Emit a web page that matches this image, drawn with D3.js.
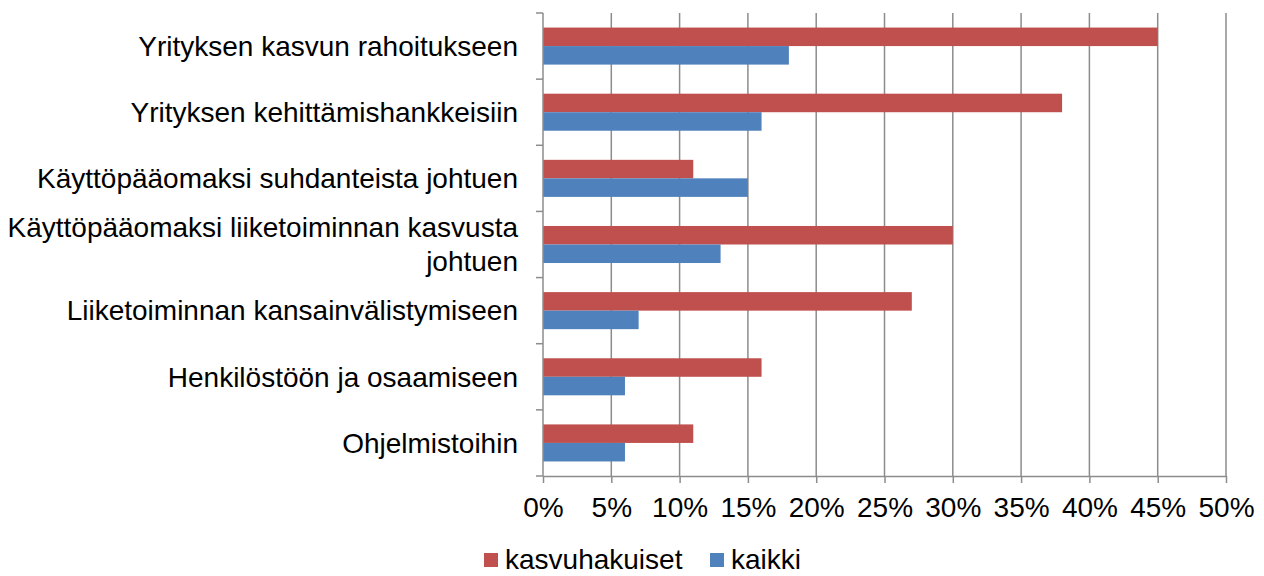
<!DOCTYPE html>
<html>
<head>
<meta charset="utf-8">
<script src="https://cdn.jsdelivr.net/npm/d3@7"></script>
<style>
  body { margin: 0; background: #fff; }
  svg text { font-family: "Liberation Sans", Arial, sans-serif; fill: #000; }
  .grid line { stroke: #8c8c8c; stroke-width: 1.5; }
  .axis path, .axis line { stroke: #8c8c8c; stroke-width: 1.5; }
</style>
</head>
<body>
<svg id="chart" width="1264" height="576"></svg>
<script>
const d3 = window.d3;

const categories = [
  'Yrityksen kasvun rahoitukseen',
  'Yrityksen kehittämishankkeisiin',
  'Käyttöpääomaksi suhdanteista johtuen',
  'Käyttöpääomaksi liiketoiminnan kasvusta johtuen',
  'Liiketoiminnan kansainvälistymiseen',
  'Henkilöstöön ja osaamiseen',
  'Ohjelmistoihin'
];
// label lines (wrapped as in the original)
const labelLines = [
  ['Yrityksen kasvun rahoitukseen'],
  ['Yrityksen kehittämishankkeisiin'],
  ['Käyttöpääomaksi suhdanteista johtuen'],
  ['Käyttöpääomaksi liiketoiminnan kasvusta', 'johtuen'],
  ['Liiketoiminnan kansainvälistymiseen'],
  ['Henkilöstöön ja osaamiseen'],
  ['Ohjelmistoihin']
];
const seriesNames = ['kasvuhakuiset', 'kaikki'];
const kasvuhakuiset = [0.45, 0.38, 0.11, 0.30, 0.27, 0.16, 0.11];
const kaikki = [0.18, 0.16, 0.15, 0.13, 0.07, 0.06, 0.06];
const xTicks = [0, 0.05, 0.10, 0.15, 0.20, 0.25, 0.30, 0.35, 0.40, 0.45, 0.50];
const colors = ['#C0504D', '#4F81BD'];

const M = { top: 13, right: 38, bottom: 100, left: 543 };
const W = 1264, H = 576;
const innerW = W - M.left - M.right;
const innerH = H - M.top - M.bottom;
const FS = 28;

const svg = d3.select('#chart');
const g = svg.append('g').attr('transform', `translate(${M.left},${M.top})`);

const x = d3.scaleLinear().domain([0, 0.5]).range([0, innerW]);
const y = d3.scaleBand().domain(categories).range([0, innerH]).paddingInner(0.44).paddingOuter(0.22);
const ySub = d3.scaleBand().domain(seriesNames).range([0, y.bandwidth()]);

// vertical gridlines
g.append('g').attr('class', 'grid')
  .selectAll('line').data(xTicks.slice(1)).join('line')
  .attr('x1', d => x(d)).attr('x2', d => x(d))
  .attr('y1', 0).attr('y2', innerH);

// bars
const rows = categories.map((c, i) => ({ c, vals: [kasvuhakuiset[i], kaikki[i]] }));
const grp = g.selectAll('.row').data(rows).join('g')
  .attr('transform', d => `translate(0,${y(d.c)})`);
grp.selectAll('rect').data(d => d.vals.map((v, j) => ({ v, s: seriesNames[j], j }))).join('rect')
  .attr('x', 0)
  .attr('y', d => ySub(d.s))
  .attr('width', d => x(d.v))
  .attr('height', ySub.bandwidth())
  .attr('fill', d => colors[d.j]);

// x axis
const xAxis = g.append('g').attr('class', 'axis')
  .attr('transform', `translate(0,${innerH})`)
  .call(d3.axisBottom(x).tickValues(xTicks).tickFormat(d3.format('.0%')).tickSize(7).tickSizeOuter(0).tickPadding(14));
xAxis.selectAll('text').attr('font-size', FS).style('font-family', '"Liberation Sans", Arial, sans-serif');

// y axis (category boundaries)
const step = innerH / categories.length;
const yAxis = g.append('g').attr('class', 'axis');
yAxis.append('line').attr('x1', 0).attr('x2', 0).attr('y1', 0).attr('y2', innerH);
yAxis.selectAll('line.tk').data(d3.range(categories.length + 1)).join('line').attr('class', 'tk')
  .attr('x1', -7).attr('x2', 0)
  .attr('y1', i => i * step).attr('y2', i => i * step);

// category labels
const lineH = 34;
g.selectAll('text.cat').data(categories).join('text').attr('class', 'cat')
  .attr('text-anchor', 'end')
  .attr('font-size', FS)
  .attr('transform', (c, i) => `translate(-25,${y(c) + y.bandwidth() / 2})`)
  .each(function (c, i) {
    const lines = labelLines[i];
    const t = d3.select(this);
    lines.forEach((l, k) => {
      t.append('tspan').attr('x', 0)
        .attr('y', (k - (lines.length - 1) / 2) * lineH)
        .attr('dy', '0.35em')
        .text(l);
    });
  });

// legend
const legend = svg.append('g').attr('transform', 'translate(484,559)');
const legX = [0, 226];
seriesNames.forEach((s, i) => {
  const lg = legend.append('g').attr('transform', `translate(${legX[i]},0)`);
  lg.append('rect').attr('x', 0).attr('y', -6).attr('width', 14).attr('height', 14).attr('fill', colors[i]);
  lg.append('text').attr('x', 21).attr('y', 0).attr('dy', '0.35em').attr('font-size', FS).text(s);
});
</script>
</body>
</html>
